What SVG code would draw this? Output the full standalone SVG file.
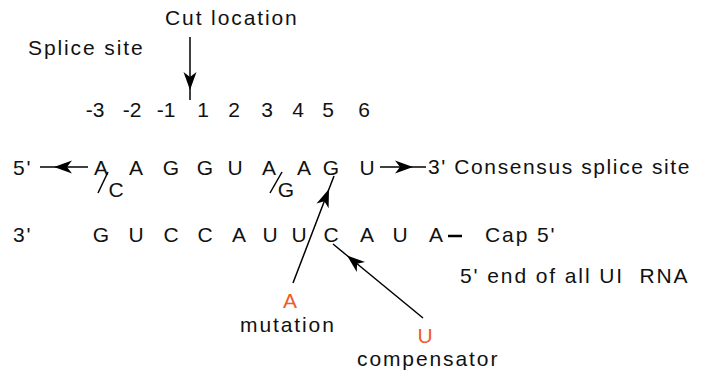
<svg xmlns="http://www.w3.org/2000/svg" width="705" height="374" viewBox="0 0 705 374">
<style>
text{font-family:"Liberation Sans",Arial,sans-serif;font-size:21px;fill:#111;letter-spacing:1.9px}
.c{text-anchor:middle;letter-spacing:0}
.red{fill:#f15a2b}
.ln{stroke:#000;stroke-width:1.5;fill:none}
</style>
<defs>
<marker id="ah" markerUnits="userSpaceOnUse" viewBox="-19 -7 20 14" refX="0" refY="0" markerWidth="20" markerHeight="14" orient="auto">
<path d="M0,0 L-18,-6.5 L-13,0 L-18,6.5 Z" fill="#000"/>
</marker>
</defs>
<g id="labels">
<text x="165" y="25">Cut location</text>
<text x="28" y="55">Splice site</text>
</g>
<g id="positions">
<text class="c" x="95" y="117">-3</text>
<text class="c" x="132" y="117">-2</text>
<text class="c" x="166" y="117">-1</text>
<text class="c" x="203" y="117">1</text>
<text class="c" x="234" y="117">2</text>
<text class="c" x="267" y="117">3</text>
<text class="c" x="298" y="117">4</text>
<text class="c" x="328" y="117">5</text>
<text class="c" x="364" y="117">6</text>
</g>
<g id="top-strand">
<text x="13" y="175">5'</text>
<text class="c" x="101" y="175">A</text>
<text class="c" x="116" y="197">C</text>
<text class="c" x="136" y="175">A</text>
<text class="c" x="171" y="175">G</text>
<text class="c" x="205" y="175">G</text>
<text class="c" x="235" y="175">U</text>
<text class="c" x="269" y="175">A</text>
<text class="c" x="286" y="197">G</text>
<text class="c" x="304" y="175">A</text>
<text class="c" x="331" y="175">G</text>
<text class="c" x="367" y="175">U</text>
<text x="428" y="174" style="letter-spacing:1.6px">3' Consensus splice site</text>
<line class="ln" x1="98" y1="193" x2="108" y2="172"/>
<line class="ln" x1="270" y1="193" x2="282" y2="172"/>
</g>
<g id="bottom-strand">
<text x="13" y="242">3'</text>
<text class="c" x="101" y="242">G</text>
<text class="c" x="136" y="242">U</text>
<text class="c" x="171" y="242">C</text>
<text class="c" x="205" y="242">C</text>
<text class="c" x="239" y="242">A</text>
<text class="c" x="270" y="242">U</text>
<text class="c" x="299" y="242">U</text>
<text class="c" x="331" y="242">C</text>
<text class="c" x="367" y="242">A</text>
<text class="c" x="400" y="242">U</text>
<text class="c" x="436" y="242">A</text>
<line x1="448" y1="236" x2="462" y2="236" stroke="#000" stroke-width="2.5"/>
<text x="485" y="242">Cap 5'</text>
<text x="460" y="283" xml:space="preserve">5' end of all UI  RNA</text>
</g>
<g id="mutation">
<text class="c red" x="290" y="308">A</text>
<text x="240" y="332">mutation</text>
</g>
<g id="compensator">
<text class="c red" x="425" y="343">U</text>
<text x="357" y="366">compensator</text>
</g>
<g id="connectors">
<path class="ln" d="M88 167 H54 H40" marker-mid="url(#ah)"/>
<path class="ln" d="M380 167 H413 H426" marker-mid="url(#ah)"/>
<path class="ln" d="M190 37 V90 V100" marker-mid="url(#ah)"/>
<path class="ln" d="M293 283 L329 189 L334 176" marker-mid="url(#ah)"/>
<path class="ln" d="M423 318 L347 255.5 L333 244" marker-mid="url(#ah)"/>
</g>
</svg>
